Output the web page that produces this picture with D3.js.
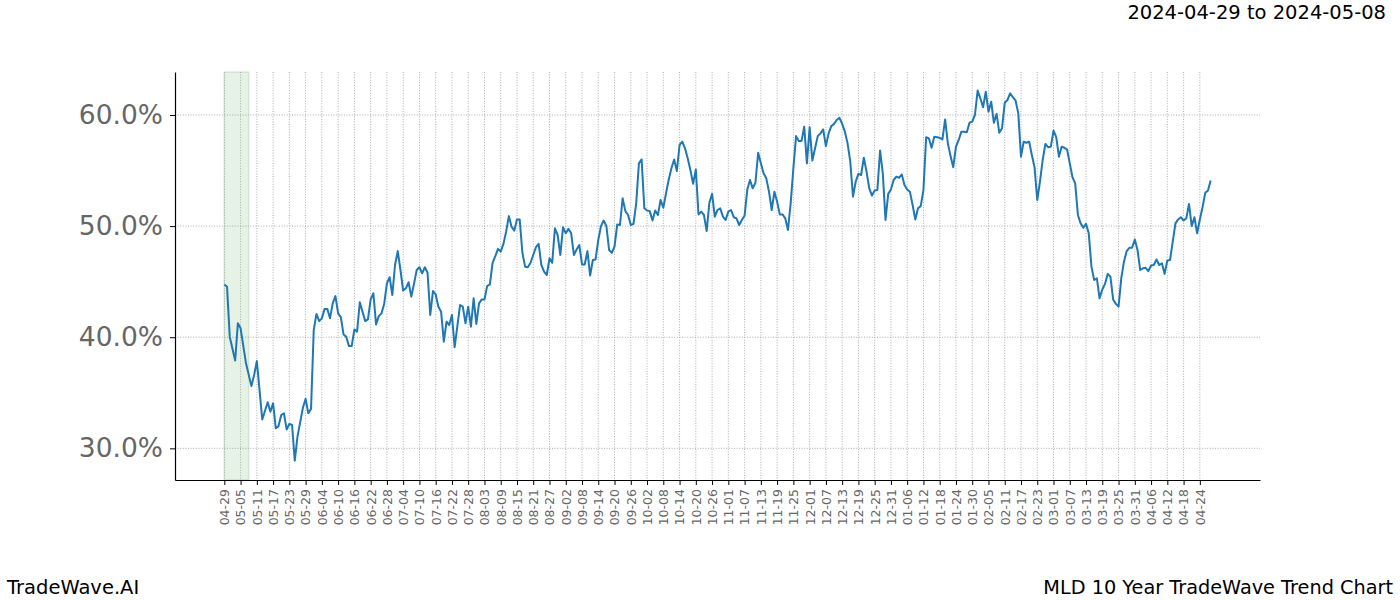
<!DOCTYPE html>
<html><head><meta charset="utf-8">
<script src="https://cdn.jsdelivr.net/npm/d3@7"></script>
<style>body{margin:0;background:#fff;} svg{display:block;font-family:"DejaVu Sans",sans-serif;}</style>
</head><body><div id="chart"></div>
<script>
const startDate = "2024-04-29";
const highlightDays = [0, 9];
const tickLabels = ["04-29","05-05","05-11","05-17","05-23","05-29","06-04","06-10","06-16","06-22","06-28","07-04","07-10","07-16","07-22","07-28","08-03","08-09","08-15","08-21","08-27","09-02","09-08","09-14","09-20","09-26","10-02","10-08","10-14","10-20","10-26","11-01","11-07","11-13","11-19","11-25","12-01","12-07","12-13","12-19","12-25","12-31","01-06","01-12","01-18","01-24","01-30","02-05","02-11","02-17","02-23","03-01","03-07","03-13","03-19","03-25","03-31","04-06","04-12","04-18","04-24"];
const yTicks = [0.30, 0.40, 0.50, 0.60];
const days = [0,1,2,4,5,6,8,10,11,12,14,16,17,18,19,20,21,22,23,24,25,26,27,29,30,31,32,33,34,35,36,37,38,39,40,41,42,43,44,45,46,47,48,49,50,52,53,54,55,56,57,58,59,
60,61,62,63,64,65,66,67,68,69,70,71,72,73,74,75,76,77,78,79,80,81,82,83,84,85,86,87,88,89,90,91,92,93,94,95,96,97,98,99,100,101,102,103,104,105,106,107,108,109,110,111,112,113,114,115,116,117,118,119,120,
121,122,123,124,125,126,127,128,129,130,131,132,133,134,135,136,137,138,139,140,141,142,143,144,145,146,147,148,149,150,151,152,153,154,155,156,157,158,159,160,161,162,163,164,165,166,167,168,169,170,171,172,173,174,175,176,177,178,179,180,181,
182,183,184,185,186,187,188,189,190,191,192,193,194,195,196,197,198,199,200,201,202,203,204,205,206,207,208,209,210,211,212,213,214,215,216,217,218,219,220,221,222,223,224,225,226,227,228,229,230,231,232,233,234,235,236,237,238,239,240,241,242,
243,244,245,246,247,248,249,250,251,252,253,254,255,256,257,258,259,260,261,262,263,264,265,266,267,268,269,270,271,272,273,274,275,276,277,278,279,280,281,282,283,284,285,286,287,288,289,290,291,292,293,294,295,296,297,298,299,300,301,302,303,
304,305,306,307,308,309,310,311,312,313,314,315,316,317,318,319,320,321,322,323,324,325,326,327,328,329,330,331,332,333,334,335,336,337,338,339,340,341,342,343,344,345,346,347,348,349,350,351,352,353,354,355,356,357,358,359,360,361,362,363,364];
const values = [44.75,44.55,40.05,37.9,41.25,40.8,37.65,35.6,36.6,37.85,32.6,34.15,33.3,34.05,31.8,32.0,33.0,33.15,31.7,32.2,32.1,28.9,31.05,33.65,34.45,33.15,33.55,40.65,42.1,41.45,41.7,42.55,42.55,41.7,43.05,43.7,42.15,41.8,40.25,40.05,39.2,39.2,40.7,40.5,43.15,41.45,41.6,43.4,43.95,41.15,41.9,42.15,43.0,
44.85,45.4,43.8,46.5,47.75,46.05,44.2,44.4,44.95,43.65,44.8,46.05,46.3,45.75,46.3,45.8,42.0,44.15,43.85,42.75,42.3,39.6,41.4,41.1,42.0,39.1,41.0,42.9,42.75,41.25,42.75,40.95,43.5,41.2,43.05,43.4,43.4,44.6,44.75,46.7,47.3,47.95,47.7,48.4,49.5,50.9,49.95,49.6,50.6,50.6,47.6,46.35,46.3,46.7,47.4,48.1,48.4,46.5,45.9,45.6,47.1,
46.7,49.8,49.2,47.4,49.9,49.35,49.75,49.35,47.4,47.9,48.3,46.55,46.55,47.75,45.55,46.95,47.0,48.75,50.0,50.5,50.0,47.85,47.6,48.15,50.15,50.1,52.5,51.35,51.0,50.1,50.2,52.05,55.65,56.0,51.6,51.4,51.35,50.5,51.4,51.0,52.35,51.65,52.95,54.2,55.2,56.0,54.95,57.3,57.6,57.0,56.1,55.05,53.8,55.1,51.05,51.3,51.0,49.55,52.1,52.9,50.85,
51.45,51.6,50.85,50.55,51.3,51.45,50.8,50.7,50.1,50.55,50.95,53.3,54.15,53.4,53.9,56.6,55.65,54.75,54.3,53.1,51.45,53.1,52.2,51.05,51.05,50.7,49.65,52.05,55.2,58.1,57.65,57.65,58.95,55.65,58.9,55.9,57.0,58.1,58.35,58.7,57.2,58.35,59.0,59.2,59.55,59.75,59.2,58.5,57.45,55.8,52.65,54.0,54.7,54.6,56.15,54.9,53.4,52.75,53.2,53.25,56.8,
54.75,50.55,52.9,53.3,54.15,54.45,54.35,54.65,53.7,53.3,53.1,51.9,50.6,51.6,51.8,53.25,58.0,57.9,57.05,58.05,58.0,57.95,57.8,59.6,57.45,56.3,55.3,57.15,57.75,58.5,58.5,58.45,59.3,59.4,60.0,62.2,61.5,60.7,62.1,60.3,61.2,59.3,60.1,58.4,58.8,61.1,61.35,61.95,61.6,61.3,60.15,56.25,57.6,57.5,57.6,56.4,55.3,52.35,54.0,55.95,57.4,
57.1,57.15,58.6,58.0,56.25,57.15,57.05,56.9,55.65,54.4,53.85,51.0,50.25,49.85,50.2,49.35,46.35,45.15,45.3,43.5,44.3,44.8,45.7,45.45,43.4,43.0,42.75,45.3,46.8,47.75,48.05,48.05,48.8,47.85,46.05,46.2,46.25,45.95,46.45,46.5,47.0,46.5,46.65,45.7,46.9,46.95,48.6,50.25,50.6,50.8,50.5,50.7,52.0,50.0,50.8,49.35,50.6,51.7,53.0,53.2,54.1];

const W = 1400, H = 600;
const m = {left: 175, right: 1260, top: 72, bottom: 480};
const svg = d3.select("#chart").append("svg").attr("width", W).attr("height", H);

const span = d3.max(days) - d3.min(days);
const x = d3.scaleLinear().domain([-0.05*span, d3.max(days) + 0.05*span]).range([m.left, m.right]);
const y = d3.scaleLinear().domain([0.2715, 0.6387]).range([m.bottom, m.top]);
const tickDays = tickLabels.map((d, i) => i * 6);

// highlight span
svg.append("rect")
  .attr("x", x(highlightDays[0])).attr("y", m.top)
  .attr("width", x(highlightDays[1]) - x(highlightDays[0]))
  .attr("height", m.bottom - m.top)
  .attr("fill", "green").attr("fill-opacity", 0.1)
  .attr("stroke", "#2e7d32").attr("stroke-opacity", 0.15).attr("stroke-width", 1.5);

// grid
const grid = svg.append("g");
grid.selectAll("line.v").data(tickDays).join("line")
  .attr("x1", d => x(d)).attr("x2", d => x(d)).attr("y1", m.top).attr("y2", m.bottom)
  .attr("stroke", "#999").attr("stroke-width", 0.8).attr("stroke-dasharray", "1,1.6");
grid.selectAll("line.h").data(yTicks).join("line")
  .attr("x1", m.left).attr("x2", m.right).attr("y1", d => y(d)).attr("y2", d => y(d))
  .attr("stroke", "#999").attr("stroke-width", 0.8).attr("stroke-dasharray", "1,1.6");

// line
const pts = days.map((d, i) => [d, values[i] / 100]);
svg.append("path").datum(pts)
  .attr("fill", "none").attr("stroke", "#1f77b4").attr("stroke-width", 2)
  .attr("stroke-linejoin", "round")
  .attr("d", d3.line().x(d => x(d[0])).y(d => y(d[1])));

// axes
const xAxis = d3.axisBottom(x).tickValues(tickDays).tickFormat((d, i) => tickLabels[i]).tickSizeInner(5).tickSizeOuter(0).tickPadding(3);
const gx = svg.append("g").attr("transform", `translate(0,${m.bottom})`).call(xAxis);
gx.select(".domain").attr("stroke", "#000").attr("stroke-width", 1.2);
gx.selectAll(".tick line").attr("stroke", "#000");
gx.selectAll(".tick text")
  .attr("transform", "rotate(-90)")
  .attr("text-anchor", "end")
  .attr("x", -9).attr("y", 0).attr("dy", "0.35em")
  .attr("fill", "#666").style("font-size", "12.5px").style("font-family", "DejaVu Sans");

const yAxis = d3.axisLeft(y).tickValues(yTicks).tickFormat(d3.format(".1%")).tickSizeInner(5).tickSizeOuter(0).tickPadding(7);
const gy = svg.append("g").attr("transform", `translate(${m.left},0)`).call(yAxis);
gy.select(".domain").attr("stroke", "#000").attr("stroke-width", 1.2);
gy.selectAll(".tick line").attr("stroke", "#000");
gy.selectAll(".tick text").attr("fill", "#666").style("font-size", "26.5px").style("font-family", "DejaVu Sans");

// texts
svg.append("text").attr("x", 1386).attr("y", 19).attr("text-anchor", "end")
  .style("font-size", "19.5px").attr("fill", "#000").text("2024-04-29 to 2024-05-08");
svg.append("text").attr("x", 7).attr("y", 594)
  .style("font-size", "19.5px").attr("fill", "#000").text("TradeWave.AI");
svg.append("text").attr("x", 1393).attr("y", 594).attr("text-anchor", "end")
  .style("font-size", "19.3px").attr("fill", "#000").text("MLD 10 Year TradeWave Trend Chart");
</script></body></html>
